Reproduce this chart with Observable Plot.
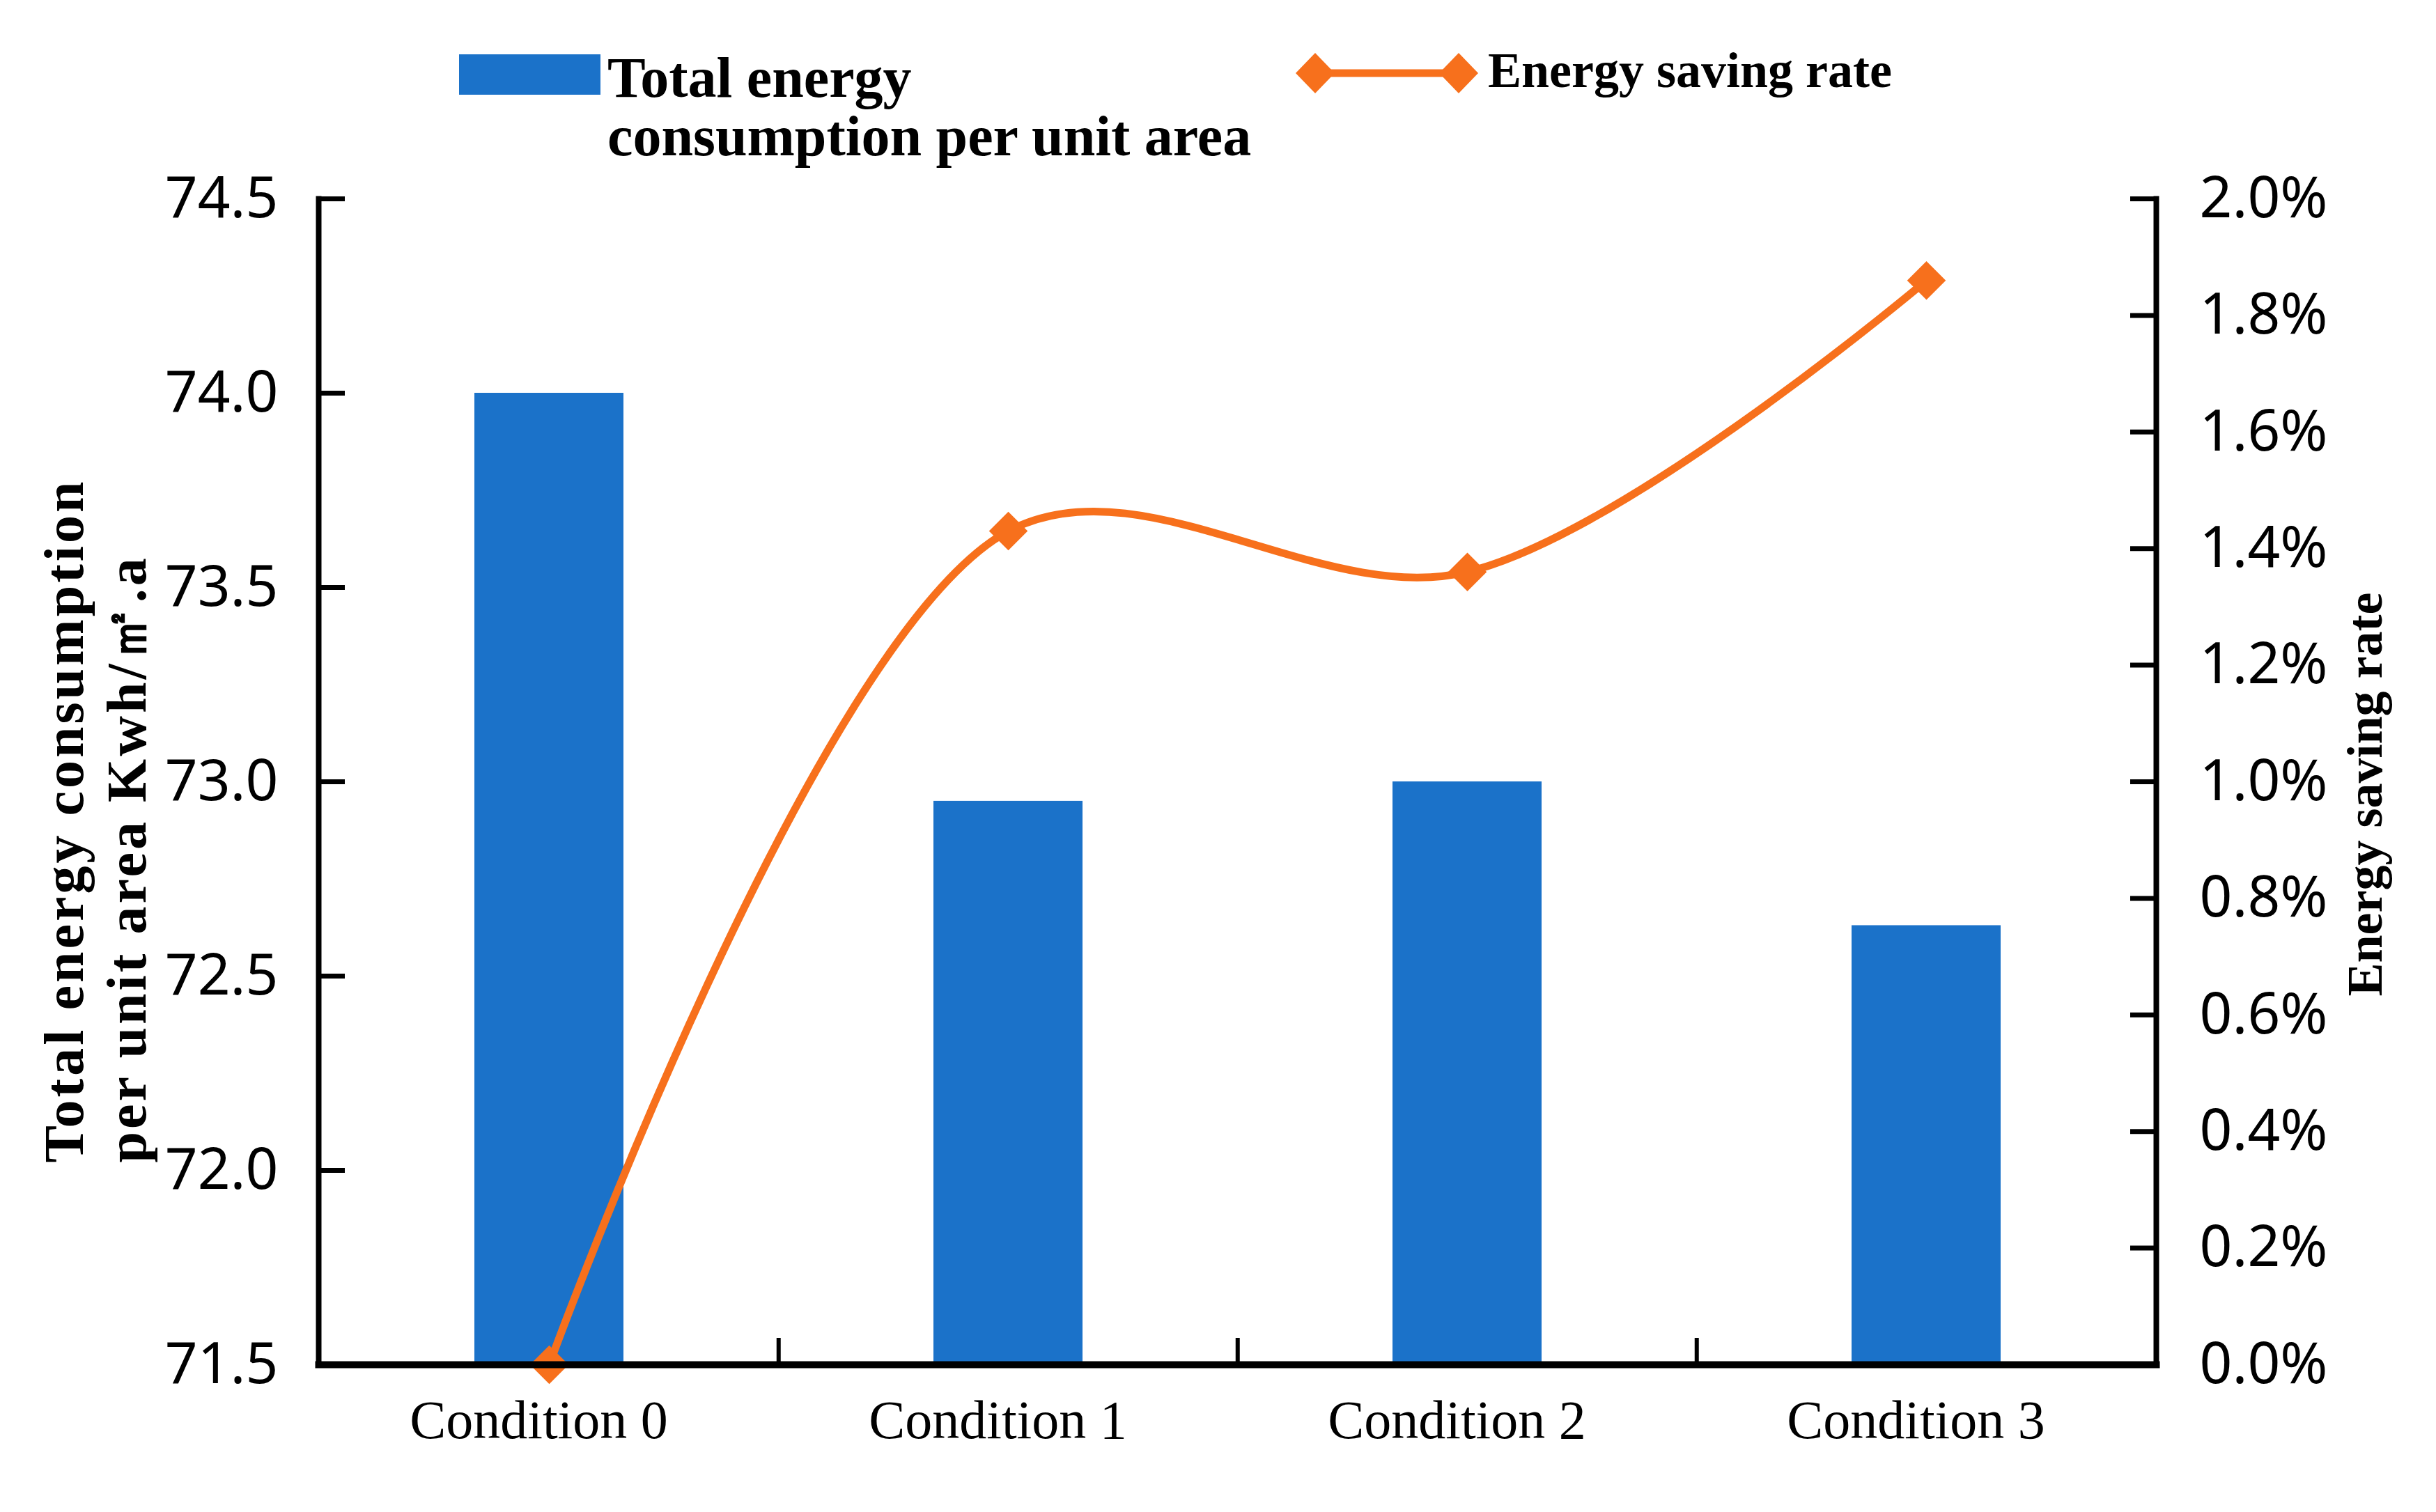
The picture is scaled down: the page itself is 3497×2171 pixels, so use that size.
<!DOCTYPE html>
<html>
<head>
<meta charset="utf-8">
<script src="https://cdn.jsdelivr.net/npm/d3@7"></script>
<script src="https://cdn.jsdelivr.net/npm/@observablehq/plot@0.6"></script>
<style>
  html, body { margin: 0; padding: 0; background: #fff; overflow: hidden; }
  #wrap { position: relative; width: 3497px; height: 2171px; background: #fff; }
  #legend { position: relative; width: 3497px; height: 240px; }
  .lg { position: absolute; font-family: "Liberation Serif", "Times New Roman", serif; font-weight: bold; color: #000; white-space: nowrap; }
  #chart svg { display: block; overflow: visible; }
  #chart g[aria-description="left-title"] text { letter-spacing: 4px; }
</style>
</head>
<body>
<div id="wrap">
  <div id="legend">
    <div class="lg" style="left:659px; top:78px; width:203px; height:58px; background:#1b72c9;"></div>
    <div class="lg" style="left:872px; top:71px; font-size:82px; line-height:82px;">Total energy</div>
    <div class="lg" style="left:872px; top:155px; font-size:82px; line-height:82px;">consumption per unit area</div>
    <svg class="lg" style="left:1856px; top:75px;" width="270" height="60" viewBox="0 0 270 60">
      <line x1="32" y1="30" x2="238" y2="30" stroke="#f7701c" stroke-width="11"/>
      <polygon points="32,1 60,30 32,59 4,30" fill="#f7701c"/>
      <polygon points="238,1 266,30 238,59 210,30" fill="#f7701c"/>
    </svg>
    <div class="lg" style="left:2136px; top:65px; font-size:72px; line-height:72px;">Energy saving rate</div>
  </div>
  <div id="chart"></div>
</div>
<script>
// ---- data ----
const categories = ["Condition 0", "Condition 1", "Condition 2", "Condition 3"];
const energyPerArea = [74.0, 72.95, 73.0, 72.63];        // Kwh/㎡.a
const savingRatePct = [0.0, 1.43, 1.36, 1.86];           // %
const leftTicks = [71.5, 72.0, 72.5, 73.0, 73.5, 74.0, 74.5];
const rightTicks = [0.0, 0.2, 0.4, 0.6, 0.8, 1.0, 1.2, 1.4, 1.6, 1.8, 2.0];
const leftTitle = "Total energy consumption\nper unit area Kwh/㎡.a";
const rightTitle = "Energy saving rate";

// ---- layout / style ----
const W = 3497, H = 2171, legendH = 240;
const marginLeft = 457, marginRight = 402, marginTop = 45, marginBottom = 212;
const svgH = H - legendH;
const blue = "#1b72c9", orange = "#f7701c";
const serif = "Liberation Serif, Times New Roman, serif";
const sans = "Noto Sans, Open Sans, sans-serif";
const step = (W - marginLeft - marginRight) / categories.length;

const rows = categories.map((c, i) => ({cat: c, energy: energyPerArea[i], rate: savingRatePct[i]}));

// secondary axis mapped into primary y domain
const toLeft = d3.scaleLinear()
  .domain([rightTicks[0], rightTicks[rightTicks.length - 1]])
  .range([leftTicks[0], leftTicks[leftTicks.length - 1]]);

const chart = Plot.plot({
  width: W,
  height: svgH,
  marginLeft, marginRight, marginTop, marginBottom,
  style: {background: "#fff", overflow: "visible"},
  x: {domain: categories, paddingInner: 0.676, paddingOuter: 0.338},
  y: {domain: [leftTicks[0], leftTicks[leftTicks.length - 1]]},
  marks: [
    Plot.barY(rows, {x: "cat", y1: leftTicks[0], y2: "energy", fill: blue}),
    Plot.line(rows, {x: "cat", y: d => toLeft(d.rate), stroke: orange, strokeWidth: 11, curve: "catmull-rom"}),
    Plot.dot(rows, {x: "cat", y: d => toLeft(d.rate), symbol: "diamond2", r: 25, fill: orange, stroke: null}),
    // frame lines
    Plot.frame({anchor: "left", stroke: "#000", strokeWidth: 8}),
    Plot.frame({anchor: "right", stroke: "#000", strokeWidth: 8}),
    Plot.frame({anchor: "bottom", stroke: "#000", strokeWidth: 10}),
    // left axis
    Plot.axisY(leftTicks, {anchor: "left", tickSize: -38, tickPadding: 96, strokeWidth: 7,
      tickFormat: d3.format(".1f"), fontSize: 82, fontFamily: sans, label: null}),
    // right axis
    Plot.axisY(rightTicks.map(v => toLeft(v)), {anchor: "right", tickSize: -38, tickPadding: 100, strokeWidth: 7,
      tickFormat: v => toLeft.invert(v).toFixed(1) + "%", fontSize: 82, fontFamily: sans, label: null}),
    // x axis labels
    Plot.axisX(categories, {anchor: "bottom", tickSize: 0, tickPadding: 50, dx: -15,
      fontSize: 78, fontFamily: serif, label: null}),
    // x axis category boundary ticks
    Plot.axisX(categories.slice(1), {anchor: "bottom", tickSize: -38, strokeWidth: 6, dx: -step / 2,
      tickFormat: () => "", label: null}),
    // axis titles
    Plot.text([leftTitle], {frameAnchor: "bottom-left", rotate: -90, textAnchor: "start", lineAnchor: "middle",
      lineHeight: 1.12, dx: 135 - marginLeft, dy: -290, fontSize: 80, fontWeight: "bold", fontFamily: serif,
      fill: "#000", ariaDescription: "left-title"}),
    Plot.text([rightTitle], {frameAnchor: "right", rotate: -90, textAnchor: "middle", lineAnchor: "middle",
      dx: 300, dy: 18, fontSize: 72, fontWeight: "bold", fontFamily: serif, fill: "#000"})
  ]
});
document.getElementById("chart").appendChild(chart);
</script>
</body>
</html>
